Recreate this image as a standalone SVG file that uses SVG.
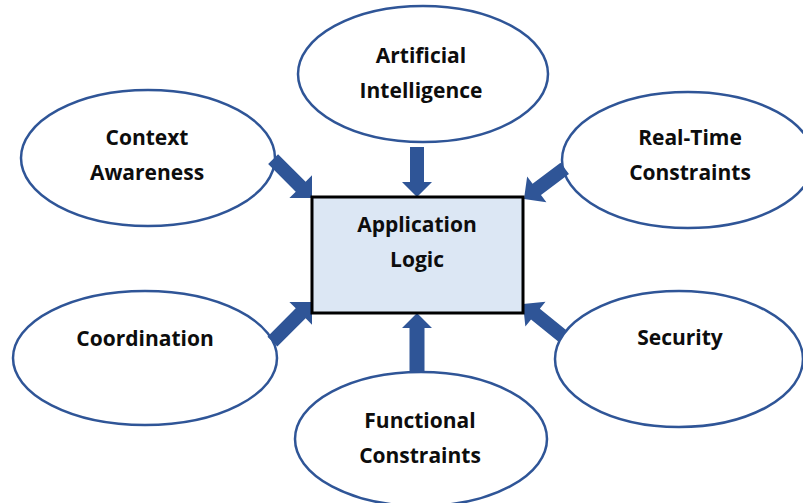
<svg xmlns="http://www.w3.org/2000/svg" width="803" height="503" viewBox="0 0 803 503">
  <style>
    .bubble { fill: #ffffff; stroke: #2F5597; stroke-width: 2.5; }
    .core { fill: #DCE7F4; stroke: #000000; stroke-width: 3; }
    .label { font-family: "Open Sans", "Liberation Sans", sans-serif; font-weight: 700; font-size: 21px; fill: #0d0d0d; text-anchor: middle; }
    .arrow { fill: #2F5597; }
  </style>
  <rect x="0" y="0" width="803" height="503" fill="#ffffff"/>

  <!-- surrounding concerns -->
  <g id="artificial-intelligence">
    <ellipse class="bubble" cx="423" cy="74" rx="125" ry="68"/>
    <text class="label" x="421" y="63">Artificial</text>
    <text class="label" x="421" y="98">Intelligence</text>
  </g>
  <g id="context-awareness">
    <ellipse class="bubble" cx="148" cy="158" rx="127" ry="68"/>
    <text class="label" x="147" y="145">Context</text>
    <text class="label" x="147" y="180">Awareness</text>
  </g>
  <g id="real-time-constraints">
    <ellipse class="bubble" cx="688" cy="160" rx="126" ry="68"/>
    <text class="label" x="690" y="145">Real-Time</text>
    <text class="label" x="690" y="180">Constraints</text>
  </g>
  <g id="coordination">
    <ellipse class="bubble" cx="145" cy="358" rx="132" ry="67"/>
    <text class="label" x="145" y="346">Coordination</text>
  </g>
  <g id="security">
    <ellipse class="bubble" cx="679" cy="359" rx="124" ry="68"/>
    <text class="label" x="680" y="345">Security</text>
  </g>
  <g id="functional-constraints">
    <ellipse class="bubble" cx="421" cy="439" rx="126" ry="67"/>
    <text class="label" x="420" y="428">Functional</text>
    <text class="label" x="420" y="463">Constraints</text>
  </g>

  <!-- block arrows, tip at local origin pointing along +x -->
  <g id="connectors">
    <path class="arrow" transform="translate(417,197) rotate(90)" d="M0,0 L-15,-15 L-15,-7 L-50,-7 L-50,7 L-15,7 L-15,15 Z"/>
    <path class="arrow" transform="translate(417,313) rotate(-90)" d="M0,0 L-15,-15 L-15,-7.5 L-59,-7.5 L-59,7.5 L-15,7.5 L-15,15 Z"/>
    <path class="arrow" transform="translate(312,198) rotate(45)" d="M0,0 L-16,-16 L-16,-7 L-55,-7 L-55,7 L-16,7 L-16,16 Z"/>
    <path class="arrow" transform="translate(312,302) rotate(-45)" d="M0,0 L-16,-16 L-16,-7 L-56,-7 L-56,7 L-16,7 L-16,16 Z"/>
    <path class="arrow" transform="translate(524,199) rotate(143)" d="M0,0 L-16,-16 L-16,-7 L-51,-7 L-51,7 L-16,7 L-16,16 Z"/>
    <path class="arrow" transform="translate(523,304) rotate(219)" d="M0,0 L-16,-16 L-16,-7 L-51,-7 L-51,7 L-16,7 L-16,16 Z"/>
  </g>

  <!-- central block -->
  <g id="application-logic">
    <rect class="core" x="312" y="197" width="211" height="116"/>
    <text class="label" x="417" y="232">Application</text>
    <text class="label" x="417" y="267">Logic</text>
  </g>
</svg>
